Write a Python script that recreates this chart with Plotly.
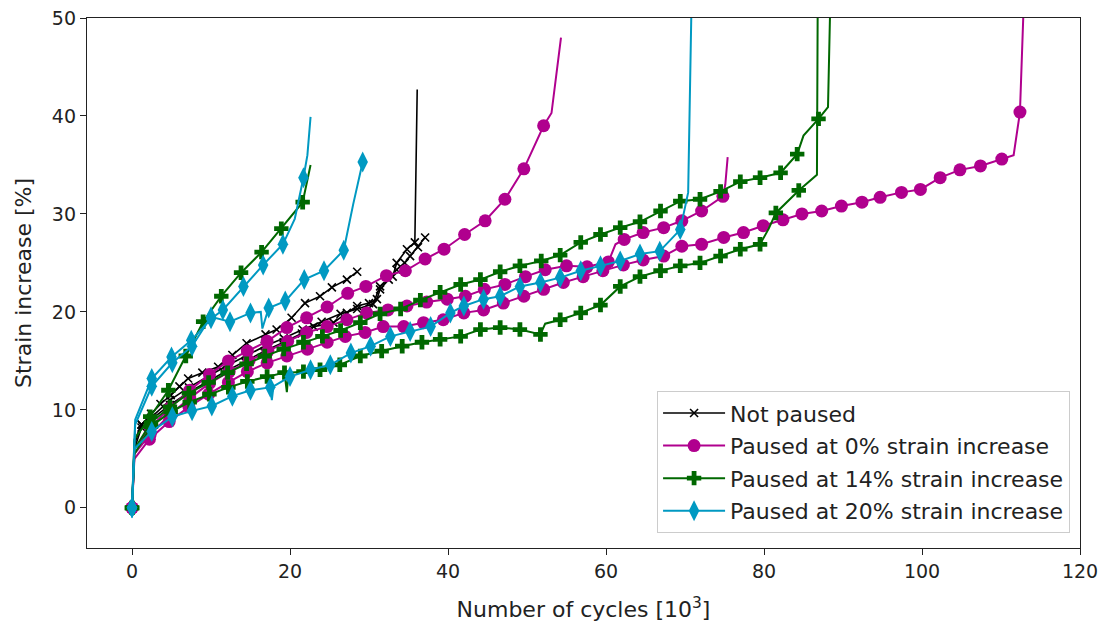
import plotly.graph_objects as go

# ---------------- data (x in 10^3 cycles, y in % strain increase) ----------------
# Not paused
K1_X = [0, 0.3, 1.2, 2.4, 3.6, 4.9, 6.0, 7.1, 8.9, 10.9, 12.7, 14.5, 16.9, 18.3, 20.2, 21.9, 23.8, 25.3, 27.2, 28.5]
K1_Y = [0, 6.5, 8.5, 9.6, 10.6, 11.5, 12.4, 13.2, 13.8, 14.4, 15.6, 16.8, 17.7, 18.2, 19.4, 20.9, 21.6, 22.5, 23.3, 24.1]
K1_SKIP = [1]
K2_X = [0, 0.3, 1.2, 2.4, 4.8, 7.2, 9.6, 12.0, 14.4, 16.8, 19.2, 21.5, 23.0, 25.5, 27.2, 28.5, 30.0, 31.0, 31.4, 32.5, 33.5, 34.5, 35.2, 36.2, 37.1]
K2_Y = [0, 6.0, 8.2, 9.0, 10.5, 11.8, 12.9, 14.0, 15.0, 16.0, 16.9, 17.8, 18.5, 18.9, 19.9, 20.6, 20.9, 21.3, 22.3, 23.3, 24.3, 25.0, 25.7, 26.6, 27.6]
K2_SKIP = [1]
K3_X = [0, 0.3, 1.2, 2.4, 4.8, 7.2, 9.6, 12.0, 14.4, 16.8, 19.2, 21.6, 24.0, 26.4, 28.5, 30.5, 31.4, 33.0, 33.5, 34.8, 35.8, 36.1]
K3_Y = [0, 6.8, 8.5, 9.2, 11.0, 12.3, 13.4, 14.5, 15.5, 16.5, 17.3, 18.2, 19.0, 19.8, 20.3, 20.8, 22.6, 23.6, 25.0, 26.4, 27.1, 42.7]
K3_SKIP = [1, 21]

# Paused at 0%
M1_X = [0, 0.3, 2.3, 4.8, 7.3, 9.8, 12.2, 14.6, 17.1, 19.6, 22.1, 24.7, 27.3, 29.6, 32.2, 34.6, 37.1, 39.5, 42.1, 44.7, 47.2, 49.6, 52.1, 53.1, 54.3]
M1_Y = [0, 6.0, 8.2, 10.2, 12.0, 13.6, 15.0, 16.0, 17.0, 18.4, 19.4, 20.5, 21.9, 22.6, 23.7, 24.2, 25.4, 26.4, 27.9, 29.3, 31.5, 34.6, 39.0, 40.3, 48.0]
M1_SKIP = [1, 23, 24]
M2_X = [0, 0.3, 2.3, 4.8, 7.3, 9.8, 12.3, 14.8, 17.2, 19.7, 22.1, 24.7, 27.2, 29.7, 32.4, 34.8, 37.3, 39.9, 42.2, 44.6, 47.2, 49.8, 52.3, 55.0, 57.6, 60.3, 61.2, 62.3, 64.7, 67.3, 69.6, 72.1, 74.8, 75.1, 75.4]
M2_Y = [0, 5.5, 7.5, 9.5, 11.2, 12.7, 13.9, 15.0, 16.0, 17.0, 17.9, 18.5, 19.2, 19.9, 20.2, 20.6, 21.0, 21.3, 21.6, 22.3, 22.8, 23.6, 24.3, 24.7, 24.6, 25.1, 26.9, 27.4, 28.1, 28.6, 29.3, 30.3, 31.8, 33.0, 35.8]
M2_SKIP = [1, 26, 33, 34]
M3_X = [0, 0.3, 2.2, 4.7, 7.2, 9.7, 12.2, 14.6, 17.1, 19.6, 22.2, 24.7, 27.0, 29.5, 31.8, 34.4, 36.9, 39.4, 42.0, 44.5, 47.0, 49.6, 52.1, 54.6, 57.1, 59.6, 62.2, 64.7, 67.3, 69.6, 72.1, 74.9, 77.4, 79.9, 82.4, 84.8, 87.3, 89.8, 92.4, 94.7, 97.4, 99.8, 102.3, 104.8, 107.4, 110.1, 111.6, 112.4, 112.9]
M3_Y = [0, 5.0, 7.0, 8.8, 10.3, 11.6, 12.8, 13.9, 14.8, 15.5, 16.2, 16.9, 17.5, 17.9, 18.5, 18.5, 18.9, 19.2, 19.9, 20.2, 20.9, 21.6, 22.3, 23.0, 23.6, 24.2, 24.8, 25.3, 25.7, 26.7, 26.9, 27.6, 28.1, 28.8, 29.4, 30.0, 30.3, 30.8, 31.2, 31.7, 32.2, 32.5, 33.7, 34.5, 34.9, 35.6, 36.0, 40.4, 52.0]
M3_SKIP = [1, 46, 48]

# Paused at 14%
G1_X = [0, 0.3, 2.3, 4.6, 6.8, 9.0, 11.3, 13.8, 16.4, 18.9, 21.6, 22.6]
G1_Y = [0, 7.0, 9.3, 12.0, 15.5, 19.0, 21.6, 24.0, 26.1, 28.5, 31.2, 35.0]
G1_SKIP = [1, 11]
G2_X = [0, 0.3, 2.4, 4.8, 7.2, 9.7, 12.1, 14.5, 16.8, 19.2, 21.7, 24.1, 26.4, 28.9, 31.4, 34.0, 36.5, 39.0, 41.6, 44.1, 46.6, 49.1, 51.8, 54.2, 56.8, 59.3, 61.8, 64.3, 66.9, 69.4, 71.9, 74.5, 77.0, 79.5, 82.1, 84.2, 85.0, 86.9, 88.1, 88.4]
G2_Y = [0, 6.0, 8.7, 10.3, 11.7, 12.8, 13.8, 14.7, 15.5, 16.2, 16.9, 17.5, 18.1, 18.9, 19.8, 20.3, 21.2, 22.0, 22.8, 23.3, 24.1, 24.7, 25.2, 25.8, 27.1, 27.9, 28.6, 29.2, 30.3, 31.3, 31.5, 32.3, 33.3, 33.7, 34.2, 36.1, 38.0, 39.7, 40.9, 52.0]
G2_SKIP = [1, 36, 38, 39]
G3_X = [0, 0.3, 2.4, 4.9, 7.3, 9.8, 12.2, 14.6, 17.1, 19.3, 19.6, 19.8, 21.7, 23.8, 26.3, 28.9, 31.6, 34.2, 36.7, 39.0, 41.6, 44.1, 46.6, 49.1, 51.7, 52.3, 54.2, 56.8, 59.3, 61.8, 64.3, 66.9, 69.4, 71.9, 74.5, 77.0, 79.5, 80.6, 81.5, 84.4, 86.7, 86.8]
G3_Y = [0, 5.5, 8.3, 9.8, 10.8, 11.6, 12.3, 12.9, 13.4, 13.8, 11.8, 13.8, 13.9, 14.1, 14.6, 15.5, 16.0, 16.5, 16.9, 17.2, 17.5, 18.2, 18.4, 18.2, 17.7, 18.8, 19.2, 19.9, 20.7, 22.6, 23.6, 24.2, 24.7, 25.0, 25.7, 26.4, 26.9, 28.5, 30.1, 32.4, 34.0, 52.0]
G3_SKIP = [1, 10, 11, 25, 37, 40, 41]

# Paused at 20%
C1_X = [0, 0.4, 2.5, 5.0, 7.5, 10.0, 11.5, 14.1, 16.6, 19.1, 20.6, 21.7, 22.2, 22.6]
C1_Y = [0, 9.0, 13.2, 15.4, 17.1, 19.3, 20.2, 22.6, 24.8, 26.9, 29.5, 33.7, 36.0, 39.9]
C1_SKIP = [1, 10, 12, 13]
C2_X = [0, 0.4, 2.5, 5.1, 7.6, 10.0, 12.4, 15.0, 16.3, 16.5, 17.3, 19.4, 21.8, 24.3, 26.8, 28.0, 29.2]
C2_Y = [0, 8.5, 12.4, 14.8, 16.5, 19.5, 19.0, 19.9, 20.0, 18.3, 20.4, 21.1, 23.3, 24.2, 26.3, 31.0, 35.3]
C2_SKIP = [1, 8, 9, 15]
C3_X = [0, 0.3, 2.5, 5.1, 7.6, 10.1, 12.7, 15.0, 17.5, 17.7, 17.9, 20.0, 22.6, 25.1, 27.7, 30.2, 32.7, 35.2, 37.8, 40.3, 42.0, 44.5, 46.6, 49.1, 51.7, 54.2, 56.8, 59.3, 61.8, 64.3, 66.8, 69.4, 70.4, 70.9]
C3_Y = [0, 6.0, 7.8, 9.3, 9.9, 10.4, 11.4, 12.0, 12.3, 11.0, 12.4, 13.4, 14.1, 14.6, 15.8, 16.5, 17.5, 18.0, 18.5, 19.9, 20.6, 21.3, 21.6, 22.6, 23.0, 23.5, 24.2, 24.7, 25.2, 25.9, 26.2, 28.4, 32.2, 55.0]
C3_SKIP = [1, 9, 10, 32, 33]

SERIES_NAMES = ["Not paused", "Paused at 0% strain increase",
                "Paused at 14% strain increase", "Paused at 20% strain increase"]

# ---------------- styles ----------------
BLACK = "#000000"
MAG = "#b0008e"
GREEN = "#006800"
CYAN = "#0099c2"
FONT = "DejaVu Sans"
TXT = "#222222"

STYLES = {
    "k": dict(color=BLACK, symbol="x-thin", size=8, lw=1.6, mline=1.6),
    "m": dict(color=MAG, symbol="circle", size=13, lw=2, mline=0),
    "g": dict(color=GREEN, symbol="cross", size=12, lw=2, mline=0),
    "c": dict(color=CYAN, symbol="diamond-tall", size=15, lw=2, mline=0),
}

fig = go.Figure()


def marker_dict(st):
    return dict(color=st["color"], symbol=st["symbol"], size=st["size"],
                line=dict(color=st["color"], width=st["mline"]))


# legend entries
for key, name in zip(["k", "m", "g", "c"], SERIES_NAMES):
    st = STYLES[key]
    fig.add_trace(go.Scatter(x=[None], y=[None], mode="lines+markers", name=name,
                             line=dict(color=st["color"], width=st["lw"]),
                             marker=marker_dict(st), legendgroup=key))


def add_curve(xs, ys, skip, key):
    st = STYLES[key]
    fig.add_trace(go.Scatter(x=xs, y=ys, mode="lines", showlegend=False,
                             line=dict(color=st["color"], width=st["lw"]),
                             hoverinfo="skip"))
    mx = [x for i, x in enumerate(xs) if i not in skip]
    my = [y for i, y in enumerate(ys) if i not in skip]
    fig.add_trace(go.Scatter(x=mx, y=my, mode="markers", showlegend=False,
                             marker=marker_dict(st), cliponaxis=True))


for xs, ys, sk in [(K1_X, K1_Y, K1_SKIP), (K2_X, K2_Y, K2_SKIP), (K3_X, K3_Y, K3_SKIP)]:
    add_curve(xs, ys, sk, "k")
for xs, ys, sk in [(M1_X, M1_Y, M1_SKIP), (M2_X, M2_Y, M2_SKIP), (M3_X, M3_Y, M3_SKIP)]:
    add_curve(xs, ys, sk, "m")
for xs, ys, sk in [(G1_X, G1_Y, G1_SKIP), (G2_X, G2_Y, G2_SKIP), (G3_X, G3_Y, G3_SKIP)]:
    add_curve(xs, ys, sk, "g")
for xs, ys, sk in [(C1_X, C1_Y, C1_SKIP), (C2_X, C2_Y, C2_SKIP), (C3_X, C3_Y, C3_SKIP)]:
    add_curve(xs, ys, sk, "c")

axis_common = dict(showline=True, mirror=True, linecolor=TXT, linewidth=1.3,
                   ticks="outside", ticklen=6, tickwidth=1.3, tickcolor=TXT,
                   showgrid=False, zeroline=False, automargin=False,
                   ticklabeloverflow="allow",
                   tickfont=dict(family=FONT, size=19, color=TXT))

fig.update_layout(
    width=1099, height=622,
    paper_bgcolor="white", plot_bgcolor="white",
    margin=dict(l=87, r=19, t=18, b=74),
    font=dict(family=FONT, size=19, color=TXT),
    xaxis=dict(range=[-5.7, 120], tickvals=[0, 20, 40, 60, 80, 100, 120],
               title=dict(text="Number of cycles [10<sup>3</sup>]", standoff=21,
                          font=dict(family=FONT, size=22, color=TXT)),
               **axis_common),
    yaxis=dict(range=[-4.1, 50], tickvals=[0, 10, 20, 30, 40, 50],
               title=dict(text="Strain increase [%]", standoff=14,
                          font=dict(family=FONT, size=22, color=TXT)),
               **axis_common),
    legend=dict(x=0.99, y=0.028, xanchor="right", yanchor="bottom",
                bgcolor="rgba(255,255,255,0.85)", bordercolor="#cccccc", borderwidth=1,
                font=dict(family=FONT, size=22, color=TXT),
                itemwidth=62, traceorder="grouped", tracegroupgap=1),
    showlegend=True,
)

# remove the page's default body margin so the figure fills the window exactly
fig.write_html("out.html",
               config={"displayModeBar": False},
               post_script="document.body.style.margin='0';"
                           "document.body.style.overflow='hidden';")
